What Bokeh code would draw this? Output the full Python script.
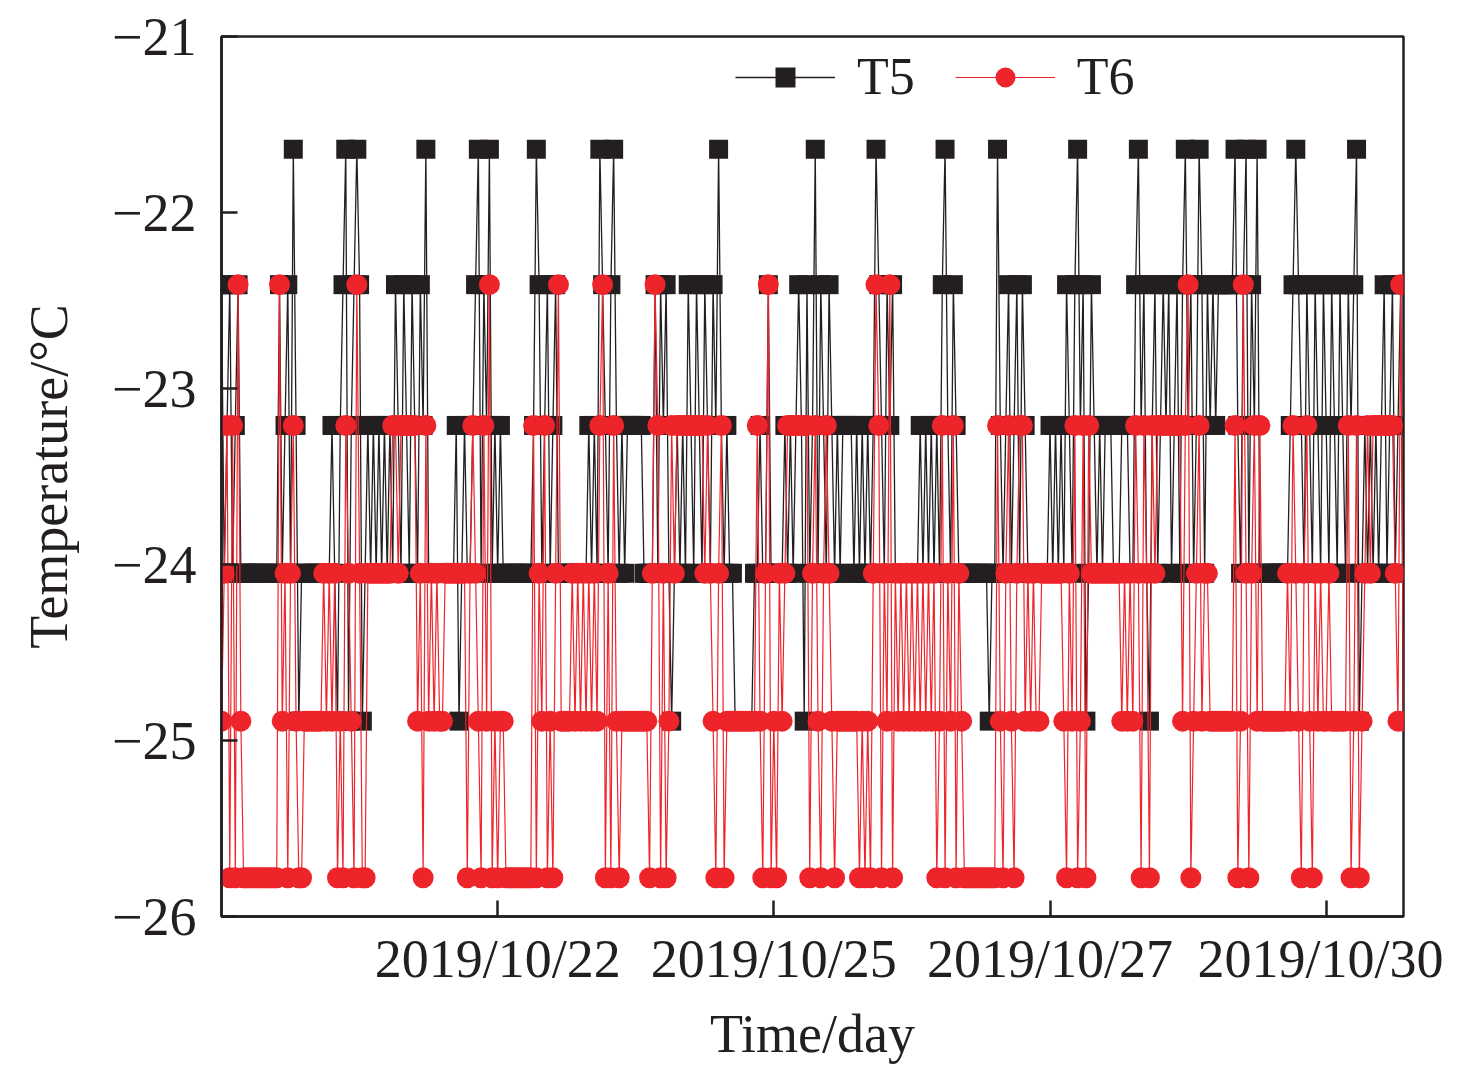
from bokeh.plotting import figure
from bokeh.models import Range1d, FixedTicker, Legend, LegendItem
from bokeh.embed import file_html
from bokeh.resources import INLINE

# Quantised temperature levels (degC)
LEVELS = [-21.64, -22.41, -23.21, -24.05, -24.89, -25.78]

# Level index of every sample, read left to right (10 samples per group)
T5_codes = [
    "1321321333", "3333333333", "3132130243", "3333333333", "2342104210",
    "1432323232", "3231231231", "2312033333", "3333324323", "3210312032",
    "3233333333", "3332013213", "2133333333", "3332323012", "3102323222",
    "2223333131", "2134323231", "2312312312", "0232334444", "4443323313",
    "3333232321", "2413203123", "1232322223", "2323232012", "3121333333",
    "3332323232", "3102312333", "3333333343", "3023213213", "1233333333",
    "2323231231", "0214312323", "2223332223", "3102134213", "2121321310",
    "2132013121", "2111111023", "1031203333", "3333333210", "1231231231",
    "2312312312", "1043232323", "213213214",
]
T6_codes = [
    "4325251455", "5555555555", "5143532455", "4444444343", "4354523451",
    "3553333333", "3322322222", "2435243434", "4333333335", "3234524154",
    "5445555555", "5552534254", "5314444343", "4343434215", "3524544444",
    "4444453125", "3542322222", "2222232345", "3254444444", "4444245315",
    "4534322222", "2225324532", "3454444444", "4545453125", "3415343434",
    "3434343435", "4253425345", "5555555555", "5245324532", "2434344333",
    "3333345342", "5425233333", "3333334343", "4235235232", "2222222242",
    "1543243344", "4444444254", "1353242444", "4444443423", "4532453434",
    "4344444425", "4254323222", "222223414",
]

X_TICKS = [100, 200, 300, 400]
X_TICK_LABELS = ["2019/10/22", "2019/10/25", "2019/10/27", "2019/10/30"]
Y_TICKS = [-26, -25, -24, -23, -22, -21]
Y_TICK_LABELS = ["\u221226", "\u221225", "\u221224", "\u221223", "\u221222", "\u221221"]

t5 = [LEVELS[int(c)] for c in "".join(T5_codes)]
t6 = [LEVELS[int(c)] for c in "".join(T6_codes)]
n = min(len(t5), len(t6))
t5, t6 = t5[:n], t6[:n]
xs = list(range(n))

BLACK = "#231f20"
RED = "#ee242b"
FONT = "Liberation Serif"

p = figure(frame_width=1182, frame_height=880,
           min_border_left=221, min_border_right=40,
           min_border_top=36, min_border_bottom=140,
           x_range=Range1d(0, n - 1), y_range=Range1d(-26, -21),
           output_backend="svg", toolbar_location=None,
           background_fill_color="white", border_fill_color="white")

p.xgrid.visible = False
p.ygrid.visible = False
p.outline_line_color = BLACK
p.outline_line_width = 2.5
p.outline_line_alpha = 1

for ax in (p.xaxis[0], p.yaxis[0]):
    ax.axis_line_color = BLACK
    ax.axis_line_width = 2.5
    ax.major_tick_line_color = BLACK
    ax.major_tick_line_width = 2.5
    ax.major_tick_in = 16
    ax.major_tick_out = 0
    ax.minor_tick_line_color = None
    ax.major_label_text_font = FONT
    ax.major_label_text_font_size = "54px"
    ax.major_label_text_color = BLACK
    ax.axis_label_text_font = FONT
    ax.axis_label_text_font_size = "54px"
    ax.axis_label_text_font_style = "normal"
    ax.axis_label_text_color = BLACK

p.xaxis.ticker = FixedTicker(ticks=X_TICKS)
p.xaxis.major_label_overrides = {t: l for t, l in zip(X_TICKS, X_TICK_LABELS)}
p.yaxis.ticker = FixedTicker(ticks=Y_TICKS)
p.yaxis.major_label_overrides = {t: l for t, l in zip(Y_TICKS, Y_TICK_LABELS)}
p.xaxis.axis_label = "Time/day"
p.yaxis.axis_label = "Temperature/\u00b0C"
p.xaxis.major_label_standoff = 12
p.yaxis.major_label_standoff = 25
p.xaxis.axis_label_standoff = 12
p.yaxis.axis_label_standoff = 30

l5 = p.line(xs, t5, line_color=BLACK, line_width=1.3)
s5 = p.scatter(xs, t5, marker="square", size=19, fill_color=BLACK, line_color=BLACK, line_width=0)
l6 = p.line(xs, t6, line_color=RED, line_width=1.2)
s6 = p.scatter(xs, t6, marker="circle", size=21, fill_color=RED, line_color=RED, line_width=0)

legend = Legend(items=[LegendItem(label="T5", renderers=[l5, s5]),
                       LegendItem(label="T6", renderers=[l6, s6])],
                orientation="horizontal", location=(514, 810),
                glyph_width=100, glyph_height=50, label_standoff=22, spacing=40,
                padding=0, margin=0, border_line_color=None,
                background_fill_alpha=0,
                label_text_font=FONT, label_text_font_size="52px",
                label_text_color=BLACK)
p.add_layout(legend)

open("out.html", "w").write(file_html(p, INLINE))
